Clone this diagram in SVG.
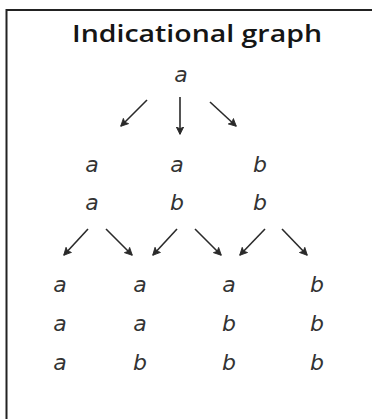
<svg xmlns="http://www.w3.org/2000/svg" width="372" height="419" viewBox="0 0 372 419">
<style>
.t{font-family:"DejaVu Sans","Verdana",sans-serif;font-style:italic;font-size:22px;fill:#333;text-anchor:middle}
.title{font-family:"Open Sans","DejaVu Sans",sans-serif;font-weight:600;font-size:24px;fill:#151515;text-anchor:middle}
.a{stroke:#2a2a2a;stroke-width:1.6;fill:none;marker-end:url(#h)}
</style>
<defs>
<marker id="h" viewBox="0 0 10 10" refX="8.5" refY="5" markerWidth="5.5" markerHeight="5.5" orient="auto" markerUnits="strokeWidth">
<path d="M0.5,0.8 L9,5 L0.5,9.2 L2.5,5 Z" fill="#2a2a2a" stroke="#2a2a2a" stroke-width="1" stroke-linejoin="round"/>
</marker>
</defs>
<rect x="0" y="0" width="372" height="419" fill="#fff"/>
<path d="M6.5,430 V10 H380" fill="none" stroke="#222" stroke-width="2"/>
<text class="title" x="197" y="42" textLength="250" lengthAdjust="spacingAndGlyphs">Indicational graph</text>
<g id="n0"><text class="t" x="181" y="82">a</text></g>
<g id="n1"><text class="t" x="92" y="172">a</text><text class="t" x="92" y="210">a</text></g>
<g id="n2"><text class="t" x="177" y="172">a</text><text class="t" x="177" y="210">b</text></g>
<g id="n3"><text class="t" x="260" y="172">b</text><text class="t" x="260" y="210">b</text></g>
<g id="n4"><text class="t" x="60" y="292">a</text><text class="t" x="60" y="331">a</text><text class="t" x="60" y="370">a</text></g>
<g id="n5"><text class="t" x="140" y="292">a</text><text class="t" x="140" y="331">a</text><text class="t" x="140" y="370">b</text></g>
<g id="n6"><text class="t" x="229" y="292">a</text><text class="t" x="229" y="331">b</text><text class="t" x="229" y="370">b</text></g>
<g id="n7"><text class="t" x="317" y="292">b</text><text class="t" x="317" y="331">b</text><text class="t" x="317" y="370">b</text></g>
<g id="connectors">
<line class="a" x1="147" y1="100" x2="121" y2="126"/>
<line class="a" x1="180" y1="97" x2="180" y2="134"/>
<line class="a" x1="210" y1="102" x2="236" y2="126"/>
<line class="a" x1="88" y1="229" x2="64" y2="255"/>
<line class="a" x1="106" y1="229" x2="132" y2="255"/>
<line class="a" x1="177" y1="229" x2="153" y2="255"/>
<line class="a" x1="195" y1="229" x2="221" y2="255"/>
<line class="a" x1="265" y1="229" x2="240" y2="255"/>
<line class="a" x1="282" y1="229" x2="307" y2="255"/>
</g>
</svg>
